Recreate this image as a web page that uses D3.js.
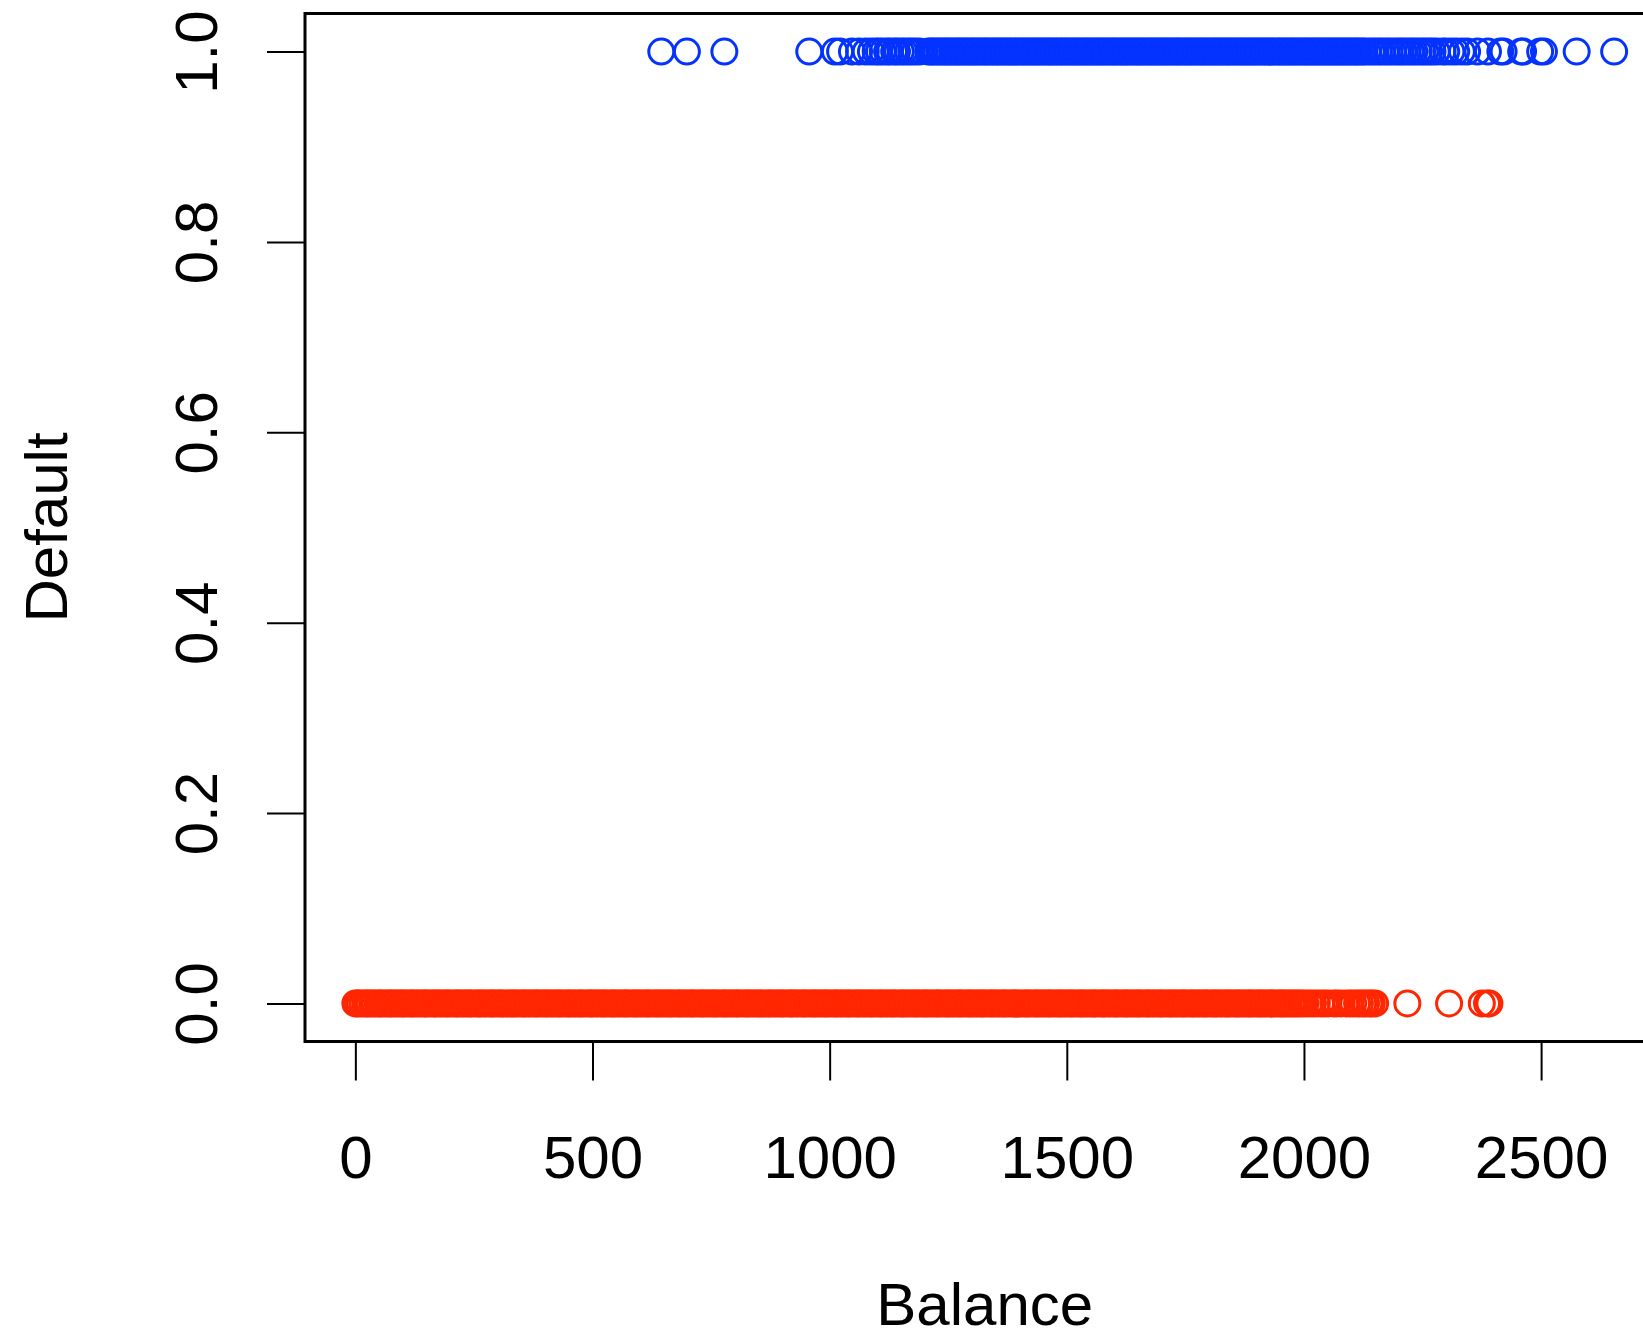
<!DOCTYPE html>
<html>
<head>
<meta charset="utf-8">
<script src="https://cdn.jsdelivr.net/npm/d3@7"></script>
<style>
  body { margin: 0; background: #ffffff; }
  svg { display: block; }
</style>
</head>
<body>
<svg id="scatter"></svg>
<script>
// balance of customers who did not default (drawn at Default = 0)
var balanceNo = [
  0, 4, 9, 15, 21, 26, 30, 36, 41, 47, 52, 56, 62, 68, 73, 77, 83, 88, 94, 99, 103, 109, 115, 120, 124, 130, 135, 141, 146, 150,
  156, 162, 167, 171, 177, 182, 188, 193, 197, 203, 209, 214, 218, 224, 229, 235, 240, 244, 250, 256, 261, 265, 271, 276, 282, 287,
  291, 297, 303, 308, 312, 318, 323, 329, 334, 338, 344, 350, 355, 359, 365, 370, 376, 381, 385, 391, 397, 402, 406, 412, 417, 423,
  428, 432, 438, 444, 449, 453, 459, 464, 470, 475, 479, 485, 491, 496, 500,
  506, 511, 517, 522, 526, 532, 538, 543, 547, 553, 558, 564, 569, 573, 579, 585, 590, 594, 600, 605, 611, 616, 620, 626, 632, 637,
  641, 647, 652, 658, 663, 667, 673, 679, 684, 688, 694, 699, 705, 710, 714, 720, 726, 731, 735, 741, 746, 752, 757, 761, 767, 773,
  778, 782, 788, 793, 799, 804, 808, 814, 820, 825, 829, 835, 840, 846, 851, 855, 861, 867, 872, 876, 882, 887, 893, 898, 902, 908,
  914, 919, 923, 929, 934, 940, 945, 949, 955, 961, 966, 970, 976, 981, 987, 992, 996,
  1002, 1008, 1013, 1017, 1023, 1028, 1034, 1039, 1043, 1049, 1055, 1060, 1064, 1070, 1075, 1081, 1086, 1090, 1096, 1102, 1107, 1111,
  1117, 1122, 1128, 1133, 1137, 1143, 1149, 1154, 1158, 1164, 1169, 1175, 1180, 1184, 1190, 1196, 1201, 1205, 1211, 1216, 1222, 1227,
  1231, 1237, 1243, 1248, 1252, 1258, 1263, 1269, 1274, 1278, 1284, 1290, 1295, 1299, 1305, 1310, 1316, 1321, 1325, 1331, 1337, 1342,
  1346, 1352, 1357, 1363, 1368, 1372, 1378, 1384, 1389, 1393, 1399, 1404, 1410, 1415, 1419, 1425, 1431, 1436, 1440, 1446, 1451, 1457,
  1462, 1466, 1472, 1478, 1483, 1487, 1493, 1498,
  1504, 1509, 1513, 1519, 1525, 1530, 1534, 1540, 1545, 1551, 1556, 1560, 1566, 1572, 1577, 1581, 1587, 1592, 1598, 1603, 1607, 1613,
  1619, 1624, 1628, 1634, 1639, 1645, 1650, 1654, 1660, 1666, 1671, 1675, 1681, 1686, 1692, 1697, 1701, 1707, 1713, 1718, 1722, 1728,
  1733, 1739, 1744, 1748, 1754, 1760, 1765, 1769, 1775, 1780, 1786, 1791, 1795, 1801, 1807, 1812, 1816, 1822, 1827, 1833, 1838, 1842,
  1848, 1854, 1859, 1863, 1869, 1874, 1880, 1885, 1889, 1895, 1901, 1906, 1910, 1916, 1921, 1927, 1932, 1936, 1942, 1948, 1953, 1957,
  1963, 1968, 1974, 1979, 1984, 1990, 1996,
  2003, 2011, 2019, 2027, 2036, 2043, 2051, 2062, 2069, 2078, 2089, 2097, 2104, 2112, 2118, 2125, 2131, 2138, 2143, 2150,
  2218, 2306, 2375, 2386, 2391
]

// balance of customers who defaulted (drawn at Default = 1)
var balanceYes = [
  645, 699, 778, 957, 1011, 1022, 1047, 1062, 1076, 1087, 1097, 1104, 1112, 1121, 1127, 1136, 1142, 1150, 1157, 1165, 1172, 1180, 1189,
  1208, 1214, 1219, 1225, 1231, 1236, 1242, 1247, 1252, 1258, 1263, 1269, 1274, 1279, 1285, 1290, 1296, 1301, 1306, 1312, 1317, 1323,
  1328, 1333, 1339, 1344, 1350, 1355, 1360, 1366, 1371, 1377, 1382, 1387, 1393, 1398, 1404, 1409, 1414, 1420, 1425, 1431, 1436, 1441,
  1447, 1452, 1458, 1463, 1468, 1474, 1479, 1485, 1490, 1495, 1501, 1506, 1512, 1517, 1522, 1528, 1533, 1539, 1544, 1549, 1555, 1560,
  1566, 1571, 1576, 1582, 1587, 1593, 1598, 1603, 1609, 1614, 1620, 1625, 1630, 1636, 1641, 1647, 1652, 1657, 1663, 1668, 1674, 1679,
  1684, 1690, 1695, 1701, 1706, 1711, 1717, 1722, 1728, 1733, 1738, 1744, 1749, 1755, 1760, 1765, 1771, 1776, 1782, 1787, 1792, 1798,
  1803, 1809, 1814, 1819, 1825, 1830, 1836, 1841, 1846, 1852, 1857, 1863, 1868, 1873, 1879, 1884, 1890, 1895, 1900, 1906, 1911, 1917,
  1922, 1927, 1933, 1938, 1944, 1949, 1954, 1960, 1965, 1971, 1976, 1981, 1987, 1992, 1998, 2003, 2008, 2014, 2019, 2025, 2030, 2035,
  2041, 2046, 2052, 2057, 2062, 2068, 2073, 2079, 2084, 2089, 2095, 2100, 2106, 2111, 2116, 2122, 2127,
  2135, 2143, 2150, 2158, 2165, 2173, 2180, 2188, 2196, 2203, 2210, 2218, 2226, 2233, 2241, 2249, 2256, 2264, 2271, 2280,
  2292, 2300, 2311, 2321, 2333, 2344, 2366, 2388, 2414, 2421, 2458, 2462, 2498, 2506, 2575, 2654
]

var xTicks = [0, 500, 1000, 1500, 2000, 2500]
var yTicks = [0.0, 0.2, 0.4, 0.6, 0.8, 1.0]

var dimensions = {
    width: 1643,
    height: 1329,
    plot: { left: 305, top: 13.5, right: 1664.5, bottom: 1041.5 }
}

var font = "'Liberation Sans', Arial, Helvetica, sans-serif"

var svg = d3.select("#scatter")
            .attr("width", dimensions.width)
            .attr("height", dimensions.height)
            .style("font-family", font)

svg.append("rect")
   .attr("width", dimensions.width)
   .attr("height", dimensions.height)
   .attr("fill", "#ffffff")

// R style: axis limits padded by 4% of the data range
var xMax = d3.max(balanceYes.concat(balanceNo))
var xPad = xMax * 0.04
var xScale = d3.scaleLinear()
               .domain([-xPad, xMax + xPad])
               .range([dimensions.plot.left, dimensions.plot.right])

var yScale = d3.scaleLinear()
               .domain([-0.04, 1.04])
               .range([dimensions.plot.bottom, dimensions.plot.top])

var points = [].concat(
    balanceNo.map(d => ({balance: d, def: 0})),
    balanceYes.map(d => ({balance: d, def: 1}))
)

svg.append("g")
   .selectAll("circle")
   .data(points)
   .enter()
   .append("circle")
   .attr("cx", d => xScale(d.balance))
   .attr("cy", d => yScale(d.def))
   .attr("r", 12.5)
   .attr("fill", "none")
   .attr("stroke", d => d.def === 1 ? "#0433ff" : "#ff2600")
   .attr("stroke-width", 3)

// plot box
svg.append("rect")
   .attr("x", dimensions.plot.left)
   .attr("y", dimensions.plot.top)
   .attr("width", dimensions.plot.right - dimensions.plot.left)
   .attr("height", dimensions.plot.bottom - dimensions.plot.top)
   .attr("fill", "none")
   .attr("stroke", "#000000")
   .attr("stroke-width", 3)

var xAxisGen = d3.axisBottom().scale(xScale).tickValues(xTicks).tickSize(39).tickSizeOuter(0).tickFormat(d3.format("d"))
var xAxis = svg.append("g")
               .attr("transform", `translate(0,${dimensions.plot.bottom})`)
               .call(xAxisGen)
xAxis.select(".domain").remove()
xAxis.selectAll("line").attr("stroke", "#000").attr("stroke-width", 2)
xAxis.selectAll("text")
     .attr("y", 136.5)
     .attr("dy", null)
     .attr("fill", "#000")
     .style("font-size", "60px")
     .style("font-family", font)

var yAxisGen = d3.axisLeft().scale(yScale).tickValues(yTicks).tickSize(38).tickSizeOuter(0).tickFormat(d3.format(".1f"))
var yAxis = svg.append("g")
               .attr("transform", `translate(${dimensions.plot.left},0)`)
               .call(yAxisGen)
yAxis.select(".domain").remove()
yAxis.selectAll("line").attr("stroke", "#000").attr("stroke-width", 2)
yAxis.selectAll("text")
     .attr("x", null)
     .attr("dy", null)
     .attr("text-anchor", "middle")
     .attr("transform", "translate(-88.5,0) rotate(-90)")
     .attr("fill", "#000")
     .style("font-size", "60px")
     .style("font-family", font)

svg.append("text")
   .attr("x", (dimensions.plot.left + dimensions.plot.right) / 2)
   .attr("y", 1325)
   .attr("text-anchor", "middle")
   .style("font-size", "60px")
   .text("Balance")

svg.append("text")
   .attr("transform", `translate(66.5,${(dimensions.plot.top + dimensions.plot.bottom) / 2}) rotate(-90)`)
   .attr("text-anchor", "middle")
   .style("font-size", "60px")
   .text("Default")
</script>
</body>
</html>
